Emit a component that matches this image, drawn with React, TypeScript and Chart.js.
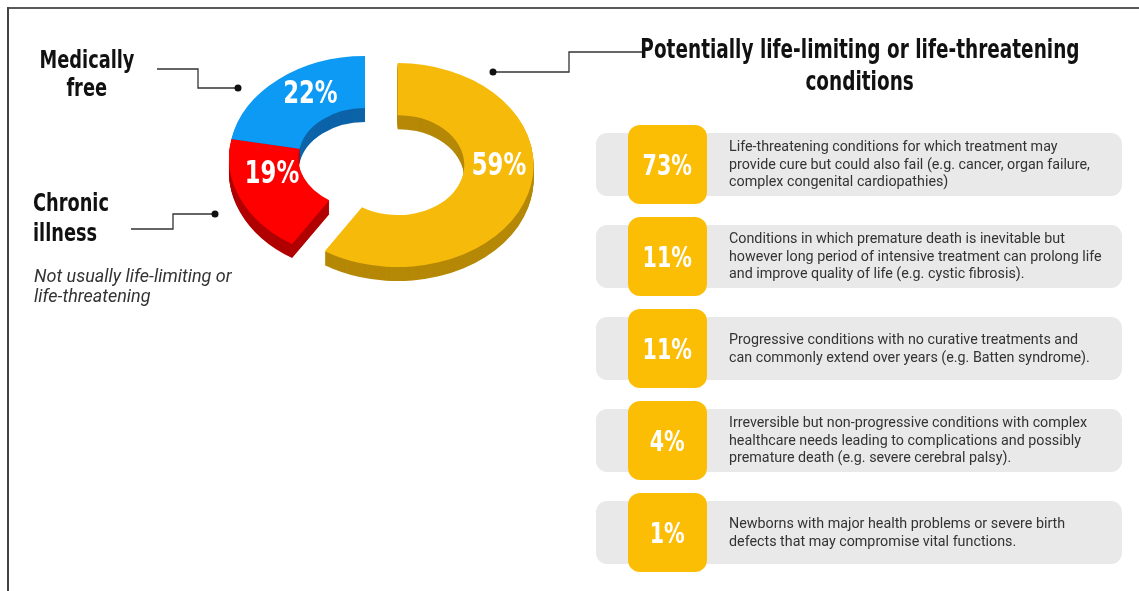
import React, { useEffect, useRef } from "react";
import { Chart, registerables } from "chart.js";

Chart.register(...registerables);

// ---- data ----
const categories = [
  "Potentially life-limiting or life-threatening conditions",
  "Chronic illness",
  "Medically free",
];
const shares = [59, 19, 22];

const subShares = [73, 11, 11, 4, 1];
const subDescriptions = [
  [
    "Life-threatening conditions for which treatment may",
    "provide cure but could also fail (e.g. cancer, organ failure,",
    "complex congenital cardiopathies)",
  ],
  [
    "Conditions in which premature death is inevitable but",
    "however long period of intensive treatment can prolong life",
    "and improve quality of life (e.g. cystic fibrosis).",
  ],
  [
    "Progressive conditions with no curative treatments and",
    "can commonly extend over years (e.g. Batten syndrome).",
  ],
  [
    "Irreversible but non-progressive conditions with complex",
    "healthcare needs leading to complications and possibly",
    "premature death (e.g. severe cerebral palsy).",
  ],
  [
    "Newborns with major health problems or severe birth",
    "defects that may compromise vital functions.",
  ],
];

const titleLines = ["Potentially life-limiting or life-threatening", "conditions"];
const medicallyLines = ["Medically", "free"];
const chronicLines = ["Chronic", "illness"];
const chronicNote = ["Not usually life-limiting or", "life-threatening"];

// ---- styles ----
const TOP_COLORS = ["#F6BA0A", "#FE0000", "#0C9AF4"];
const SIDE_COLORS = ["#B58806", "#B00000", "#0C63A8"];
const EXPLODE = [34, 0, 0];
const TILT = 0.75;
const DEPTH = 14;
const LABEL_SHIFT = -13;
const LABEL_NUDGE_X = [4, 0, 10];
const LABEL_NUDGE_Y = [-7, 0, 8];
const HEAVY = '"DejaVu Sans Condensed", "DejaVu Sans", sans-serif';
const SQUEEZE = 0.79;
const BOX_YELLOW = "#FBBE05";
const BAR_GRAY = "#E9E9E9";

const ring3d = {
  id: "ring3d",
  beforeDatasetsDraw(chart: any) {
    const ctx = chart.ctx as CanvasRenderingContext2D;
    const arcs = chart.getDatasetMeta(0).data as any[];
    if (!arcs.length) return false;
    const cx = arcs[0].x;
    const cy = arcs[0].y;
    const paint = (arc: any, i: number, dy: number, color: string) => {
      const mid = (arc.startAngle + arc.endAngle) / 2;
      const proxy = Object.create(arc);
      proxy.options = { ...arc.options, backgroundColor: color, borderWidth: 0 };
      ctx.save();
      ctx.translate(cx, cy + dy);
      ctx.scale(1, TILT);
      ctx.translate(-cx + Math.cos(mid) * EXPLODE[i], -cy + Math.sin(mid) * EXPLODE[i]);
      arc.draw.call(proxy, ctx);
      ctx.restore();
    };
    for (let d = DEPTH; d >= 1; d--) {
      arcs.forEach((a, i) => paint(a, i, d, SIDE_COLORS[i]));
    }
    arcs.forEach((a, i) => paint(a, i, 0, TOP_COLORS[i]));

    arcs.forEach((a, i) => {
      const p = a.getCenterPoint();
      const mid = (a.startAngle + a.endAngle) / 2;
      const x = p.x + Math.cos(mid) * EXPLODE[i] + LABEL_NUDGE_X[i];
      const y =
        cy + (p.y - cy + Math.sin(mid) * EXPLODE[i]) * TILT + LABEL_SHIFT + LABEL_NUDGE_Y[i];
      ctx.save();
      ctx.translate(x, y);
      ctx.scale(SQUEEZE, 1);
      ctx.fillStyle = "#ffffff";
      ctx.font = `bold 32px ${HEAVY}`;
      ctx.textAlign = "center";
      ctx.textBaseline = "middle";
      ctx.fillText(`${shares[i]}%`, 0, 0);
      ctx.restore();
    });
    return false;
  },
};

function Donut() {
  const ref = useRef<HTMLCanvasElement | null>(null);
  useEffect(() => {
    if (!ref.current) return;
    const chart = new Chart(ref.current, {
      type: "doughnut",
      data: {
        labels: categories,
        datasets: [
          {
            data: shares,
            backgroundColor: TOP_COLORS,
            borderWidth: 0,
          },
        ],
      },
      options: {
        responsive: false,
        animation: false,
        radius: 136,
        cutout: "49%",
        events: [],
        layout: { padding: 0 },
        plugins: {
          legend: { display: false },
          tooltip: { enabled: false },
        },
      } as any,
      plugins: [ring3d as any],
    });
    return () => chart.destroy();
  }, []);
  return (
    <div style={{ position: "absolute", left: 165, top: 8, width: 400, height: 300 }}>
      <canvas ref={ref} width={400} height={300} style={{ width: 400, height: 300 }} />
    </div>
  );
}

function Squeezed({ text, origin }: { text: string; origin: string }) {
  return (
    <span
      style={{
        display: "inline-block",
        transform: `scaleX(${SQUEEZE})`,
        transformOrigin: origin,
        whiteSpace: "nowrap",
      }}
    >
      {text}
    </span>
  );
}

export default function App() {
  return (
    <div
      style={{
        position: "relative",
        width: 1139,
        height: 591,
        background: "#fff",
        overflow: "hidden",
        fontFamily: "Roboto, sans-serif",
      }}
    >
      <style>{`html,body{margin:0;padding:0;background:#fff;}`}</style>

      {/* frame */}
      <div style={{ position: "absolute", left: 7, top: 7, width: 1140, height: 2, background: "#5a5a5a" }} />
      <div style={{ position: "absolute", left: 7, top: 7, width: 2, height: 590, background: "#444" }} />

      <Donut />

      {/* callout lines */}
      <svg
        width={1139}
        height={591}
        style={{ position: "absolute", left: 0, top: 0, pointerEvents: "none" }}
      >
        <polyline points="157,69 198,69 198,88 238,88" fill="none" stroke="#333" strokeWidth={1.3} />
        <circle cx={238} cy={88} r={3.5} fill="#111" />
        <polyline points="131,229 173,229 173,214 215,214" fill="none" stroke="#333" strokeWidth={1.3} />
        <circle cx={215} cy={214} r={3.5} fill="#111" />
        <polyline points="493,72 569,72 569,52 645,52" fill="none" stroke="#333" strokeWidth={1.3} />
        <circle cx={493} cy={72} r={3.5} fill="#111" />
      </svg>

      {/* left labels */}
      <div
        style={{
          position: "absolute",
          left: 20,
          top: 46,
          width: 134,
          textAlign: "center",
          font: `bold 25px ${HEAVY}`,
          lineHeight: "28px",
          color: "#111",
        }}
      >
        {medicallyLines.map((l, i) => (
          <div key={i}>
            <Squeezed text={l} origin="center" />
          </div>
        ))}
      </div>
      <div
        style={{
          position: "absolute",
          left: 33,
          top: 188,
          font: `bold 25px ${HEAVY}`,
          lineHeight: "30px",
          color: "#111",
        }}
      >
        {chronicLines.map((l, i) => (
          <div key={i}>
            <Squeezed text={l} origin="left" />
          </div>
        ))}
      </div>
      <div
        style={{
          position: "absolute",
          left: 34,
          top: 266,
          fontFamily: "Roboto, sans-serif",
          fontStyle: "italic",
          fontSize: 18,
          lineHeight: "20px",
          color: "#333",
          whiteSpace: "nowrap",
        }}
      >
        {chronicNote.map((l, i) => (
          <div key={i}>{l}</div>
        ))}
      </div>

      {/* title */}
      <div
        style={{
          position: "absolute",
          left: 560,
          top: 33,
          width: 600,
          textAlign: "center",
          font: `bold 26px ${HEAVY}`,
          lineHeight: "32px",
          color: "#111",
          whiteSpace: "nowrap",
        }}
      >
        {titleLines.map((l, i) => (
          <div key={i}>
            <Squeezed text={l} origin="center" />
          </div>
        ))}
      </div>

      {/* sub-category rows */}
      {subShares.map((v, i) => {
        const top = 133 + i * 92;
        return (
          <React.Fragment key={i}>
            <div
              style={{
                position: "absolute",
                left: 596,
                top,
                width: 526,
                height: 63,
                background: BAR_GRAY,
                borderRadius: 11,
              }}
            />
            <div
              style={{
                position: "absolute",
                left: 628,
                top: top - 8,
                width: 79,
                height: 79,
                background: BOX_YELLOW,
                borderRadius: 12,
                display: "flex",
                alignItems: "center",
                justifyContent: "center",
                color: "#fff",
                font: `bold 29px ${HEAVY}`,
              }}
            >
              <Squeezed text={`${v}%`} origin="center" />
            </div>
            <div
              style={{
                position: "absolute",
                left: 729,
                top,
                height: 63,
                width: 390,
                display: "flex",
                flexDirection: "column",
                justifyContent: "center",
                fontFamily: "Roboto, sans-serif",
                fontSize: 14.3,
                lineHeight: "17.5px",
                color: "#333",
                whiteSpace: "nowrap",
              }}
            >
              {subDescriptions[i].map((l, j) => (
                <div key={j}>{l}</div>
              ))}
            </div>
          </React.Fragment>
        );
      })}
    </div>
  );
}
